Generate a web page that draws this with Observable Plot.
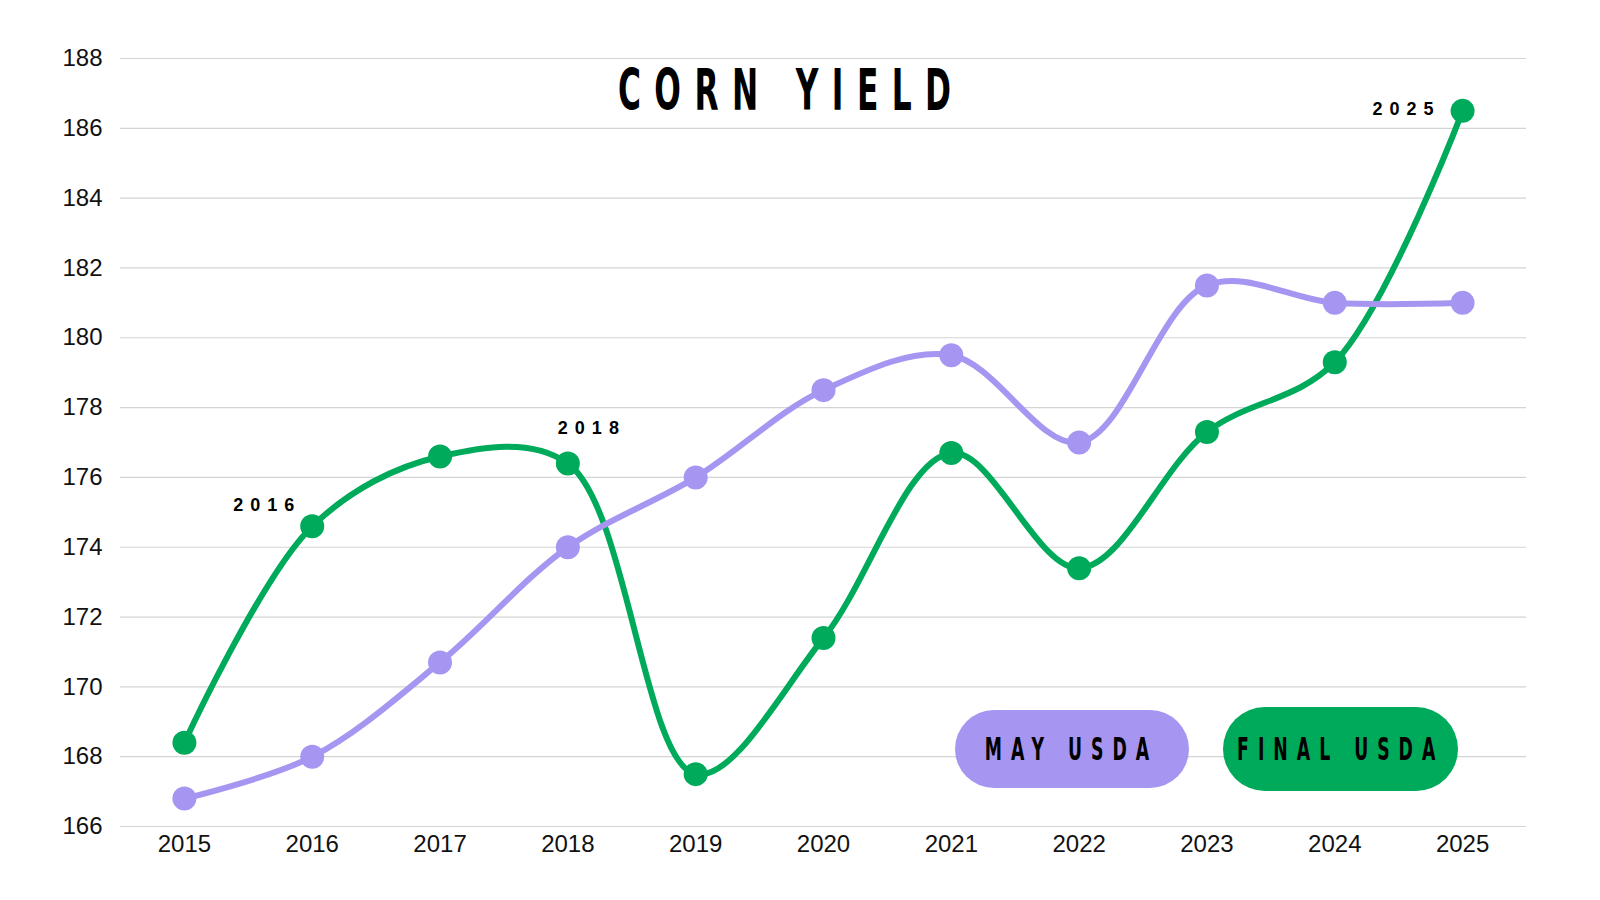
<!DOCTYPE html>
<html>
<head>
<meta charset="utf-8">
<script src="https://cdn.jsdelivr.net/npm/d3@7"></script>
<script src="https://cdn.jsdelivr.net/npm/@observablehq/plot@0.6"></script>
<style>
  html, body { margin: 0; padding: 0; background: #fff; width: 1600px; height: 900px; overflow: hidden; }
  #wrap { position: relative; width: 1600px; height: 900px; overflow: hidden; }
  #wrap svg { display: block; }
  .cond { font-family: "DejaVu Sans Condensed", "Liberation Sans Narrow", "Liberation Sans", sans-serif; font-weight: 700; color: #000; position: absolute; white-space: nowrap; }
  #title { left: 618px; top: 57px; font-size: 57px; letter-spacing: 22px; transform: scaleX(0.61); transform-origin: left top; line-height: 66px; }
  .pill { position: absolute; border-radius: 42px; display: flex; align-items: center; justify-content: center; overflow: visible; }
  .pill span { font-family: "DejaVu Sans Condensed", "Liberation Sans Narrow", "Liberation Sans", sans-serif; font-weight: 700; font-size: 32px; letter-spacing: 15px; color: #000; white-space: nowrap; transform: scaleX(0.6); transform-origin: center center; flex: none; }
</style>
</head>
<body>
<div id="wrap"></div>
<script>
const years = [2015, 2016, 2017, 2018, 2019, 2020, 2021, 2022, 2023, 2024, 2025];
const mayUSDA   = [166.8, 168.0, 170.7, 174.0, 176.0, 178.5, 179.5, 177.0, 181.5, 181.0, 181.0];
const finalUSDA = [168.4, 174.6, 176.6, 176.4, 167.5, 171.4, 176.7, 173.4, 177.3, 179.3, 186.5];
const yTicks = [166, 168, 170, 172, 174, 176, 178, 180, 182, 184, 186, 188];
const labelYears = [2016, 2018, 2025];
const labelDx = [-45, 24, -56];
const labelDy = [-21, -35, -2];
const seriesNames = ["MAY USDA", "FINAL USDA"];
const colors = ["#a696f2", "#00aa5b"];
const titleText = "CORN YIELD";

const mayData = years.map((y, i) => ({year: y, value: mayUSDA[i]}));
const finalData = years.map((y, i) => ({year: y, value: finalUSDA[i]}));

const labelMarks = labelYears.map((yr, i) => Plot.text(
  [{year: yr, value: finalUSDA[years.indexOf(yr)], label: String(yr)}],
  {x: "year", y: "value", text: "label", dx: labelDx[i], dy: labelDy[i],
   fontSize: 18, fontWeight: "bold", fill: "#000", textAnchor: "middle",
   fontFamily: "Liberation Sans, Arial, sans-serif"}
));

const chart = Plot.plot({
  width: 1600,
  height: 900,
  marginLeft: 120,
  marginRight: 74,
  marginTop: 58,
  marginBottom: 74,
  style: {fontFamily: "Liberation Sans, Arial, sans-serif", fontSize: "24px", color: "#111", background: "#fff"},
  x: {domain: [2014.5, 2025.5], ticks: years, tickFormat: d => String(d), tickSize: 0, tickPadding: 8, label: null},
  y: {domain: [166, 188], ticks: yTicks, tickSize: 0, tickPadding: 18, label: null},
  marks: [
    Plot.gridY(yTicks, {stroke: "#d4d4d4", strokeOpacity: 1, strokeWidth: 1.2}),
    Plot.line(finalData, {x: "year", y: "value", stroke: colors[1], strokeWidth: 6, curve: "catmull-rom"}),
    Plot.dot(finalData, {x: "year", y: "value", r: 12, fill: colors[1]}),
    Plot.line(mayData, {x: "year", y: "value", stroke: colors[0], strokeWidth: 6, curve: "catmull-rom"}),
    Plot.dot(mayData, {x: "year", y: "value", r: 12, fill: colors[0]}),
    ...labelMarks
  ]
});

const wrap = document.getElementById("wrap");
wrap.appendChild(chart);
d3.select(chart).selectAll("g[aria-label='text'] text").style("letter-spacing", "7px");

const title = document.createElement("div");
title.id = "title";
title.className = "cond";
title.textContent = titleText;
wrap.appendChild(title);

const pillPos = [{left: 955, top: 710, w: 234, h: 78}, {left: 1223, top: 707, w: 235, h: 84}];
seriesNames.forEach((name, i) => {
  const p = document.createElement("div");
  p.className = "pill";
  p.style.left = pillPos[i].left + "px";
  p.style.top = pillPos[i].top + "px";
  p.style.width = pillPos[i].w + "px";
  p.style.height = pillPos[i].h + "px";
  p.style.background = colors[i];
  const s = document.createElement("span");
  s.textContent = name;
  p.appendChild(s);
  wrap.appendChild(p);
});
</script>
</body>
</html>
